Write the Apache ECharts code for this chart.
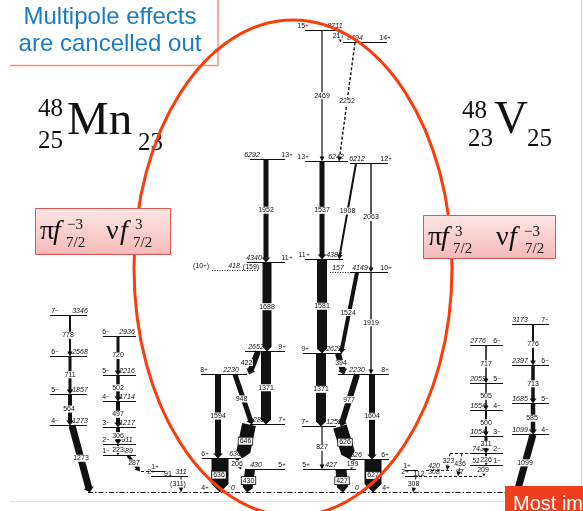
<!DOCTYPE html>
<html>
<head>
<meta charset="utf-8">
<title>48Mn / 48V mirror level schemes</title>
<script src="https://cdn.jsdelivr.net/npm/echarts@6.0.0/dist/echarts.min.js"></script>
<style>
html,body{margin:0;padding:0;background:#fff;overflow:hidden}
#chart{width:583px;height:511px}
</style>
</head>
<body>
<div id="chart"></div>
<script>
// ================= DATA (energies in keV) =================
// ---- 48Mn positive-parity yrast levels ----
const mnYrastSpin = ['4+','5+','6+','7+','8+','9+','11+','13+','(10+)'];
const mnYrastE    = [0, 430, 636, 1282, 2230, 2652, 4340, 6292, 4181];
const mnYrastText = ['0','430','636','1282','2230','2652','4340','6292','418'];
// ---- 48Mn yrast gamma rays ----
const mnYrastGamma     = ['1952','1688','1371','422','1594','948','646','636','206','430','(159)'];
const mnYrastGammaFrom = [6292, 4340, 2652, 2652, 2230, 2230, 1282, 636, 636, 430, 4340];
const mnYrastGammaTo   = [4340, 2652, 1282, 2230, 636, 1282, 636, 0, 430, 0, 4181];
const mnYrastGammaInt  = [5, 9, 10, 6, 6, 5, 14, 17, 3, 10, 0];

// ---- 48V positive-parity yrast levels ----
const vYrastSpin = ['4+','5+','6+','7+','8+','9+','10+','11+','12+','13+','14+','15+'];
const vYrastE    = [0, 427, 626, 1252, 2230, 2622, 4149, 4388, 6212, 6242, 8494, 8711];
const vYrastText = ['0','427','626','1252','2230','2622','4149','4388','6212','6242','8494','8711'];
// ---- 48V yrast gamma rays ----
const vYrastGamma     = ['2469','217','2252','1537','1908','2063','1581','1524','1919','1371','394','977','1604','827','626','199','427','627'];
const vYrastGammaFrom = [8711, 8711, 8494, 6242, 6212, 6212, 4388, 4149, 4149, 2622, 2622, 2230, 2230, 1252, 1252, 626, 427, 626];
const vYrastGammaTo   = [6242, 8494, 6242, 4388, 4388, 4149, 2622, 2622, 2230, 1252, 2230, 1252, 626, 427, 626, 427, 0, 0];
const vYrastGammaInt  = [1.2, 1, 1.4, 5, 2, 1.4, 10, 4, 1.4, 10, 6, 6, 6, 1.2, 14, 2, 11, 17];
// side stubs of 48V levels
const vStubE    = [4149, 743, 420, 308];
const vStubText = ['157', '', '420', '308'];

// ---- 48Mn negative-parity bands ----
const mnBandASpin = ['7-','6-','5-','4-'];
const mnBandAE    = [3346, 2568, 1857, 1273];
const mnBandBSpin = ['6-','5-','4-','3-','2-','1-'];
const mnBandBE    = [2936, 2216, 1714, 1217, 911, 689];
const mnLowSpin   = ['1+','2+'];
const mnLowE      = [402, 311];
const mnLowText   = ['', '311'];
const mnStubE     = [402];
const mnBandAGamma = ['778','711','564','1273'];
const mnBandAFrom  = [3346, 2568, 1857, 1273];
const mnBandATo    = [2568, 1857, 1273, 0];
const mnBandAInt   = [2, 3, 4, 7];
const mnBandBGamma = ['720','502','497','306','223','287'];
const mnBandBFrom  = [2936, 2216, 1714, 1217, 911, 689];
const mnBandBTo    = [2216, 1714, 1217, 911, 689, 402];
const mnBandBInt   = [3, 3.5, 4, 4, 2, 3];
const mnLowGamma   = ['91','(311)'];
const mnLowFrom    = [402, 311];
const mnLowTo      = [311, 0];
const mnLowInt     = [0, 1];

// ---- 48V negative-parity bands ----
const vBandCSpin = ['6-','5-','4-','3-','2-','1-'];
const vBandCE    = [2776, 2059, 1554, 1054, 743, 517];
const vBandDSpin = ['7-','6-','5-','4-'];
const vBandDE    = [3173, 2397, 1685, 1099];
const vLowSpin   = ['1+','2+'];
const vLowE      = [420, 308];
const vBandCGamma = ['717','505','500','311','226','209','323','436','97'];
const vBandCFrom  = [2776, 2059, 1554, 1054, 743, 517, 743, 743, 517];
const vBandCTo    = [2059, 1554, 1054, 743, 517, 308, 420, 308, 420];
const vBandCInt   = [1.5, 1.5, 2, 3, 2, 1, 1, 1, 0];
const vBandDGamma = ['776','713','585','1099'];
const vBandDFrom  = [3173, 2397, 1685, 1099];
const vBandDTo    = [2397, 1685, 1099, 0];
const vBandDInt   = [2, 3.5, 4.5, 7];
const vLowGamma   = ['112','308'];
const vLowFrom    = [420, 308];
const vLowTo      = [308, 0];
const vLowInt     = [0, 1];

// ================= LAYOUT (horizontal placement only) =================
// level: [x1, x2, spinLabelX, energyLabelX, lineStyle(0 solid,1 dotted,2 none,3 dashed)]
const mnYrastLayout = [[200,256,205,233,2],[245,285,282,256,0],[202,241,205,235,0],[250,285,282,257,0],
  [201,247,204,231,0],[245,285,282,256,0],[247,285,287,254,0],[250,285,287,252,0],[212,258,201,234,1]];
const vYrastLayout = [[333,390,386,357,2],[303,356,306,331,0],[350,389,385,356,0],[302,336,305,334,0],
  [338,389,385,357,0],[303,342,305,334,0],[350,388,386,360,0],[305,343,304,334,0],[350,388,386,357,0],
  [305,348,303,336,0],[343,387,385,355,0],[305,341,303,335,0]];
const vStubLayout = [[330,350,0,338,1],[450,470,0,0,3],[426,452,0,434,3],[419,484,0,434,3]];
const mnBandALayout = [50,87,55,80,0];
const mnBandBLayout = [103,136,106,127,0];
const mnLowLayout = [[151,165,155,0,0],[151,188,151,181,0]];
const mnStubLayout = [[141,151,0,0,3]];
const vBandCLayout = [470,503,497,478,0];
const vBandDLayout = [512,549,545,520,0];
const vLowLayout = [[405,418,407,0,0],[405,418,405,0,0]];
// gamma: [xFrom, xTo, labelDx, labelDy, boxed, dashed]
const mnYrastGLayout = [[266,266],[267,267],[266,266],[258,249,-7,0],[218,218],[235,252,-2,0],[249,242,0,0,1],
  [220,220,-1,0,1],[237,241,-2,0],[250,247,0,0,1],[251,251,0,-3]];
const vYrastGLayout = [[322,322],[338,341,-1,0,0,1],[355,339,0,0,0,1],[322,322],[356,339],[371,371],[322,322],
  [357,341,-1,0],[371,371],[321,321],[338,344],[357,341],[372,372],[322,322],[340,350,0,0,1],[354,351],
  [341,343,0,0,1],[373,373,0,0,1]];
const mnBandAGLayout = [[70,70,-2,0],[70,70],[70,70,-1,0],[72,90]];
const mnBandBGLayout = [[118,118],[118,118],[118,118],[118,118],[118,118],[128,140]];
const mnLowGLayout = [[168,168,0,-1.5],[181,181,-3,0,0,1]];
const vBandCGLayout = [[486,486],[486,486],[486,486],[486,486],[486,486,0,1],[484,484,-1,0,0,1],
  [450,447,0,0,0,1],[462,458,0,0,0,1],[460,460,0,2]];
const vBandDGLayout = [[533,533],[533,533],[533,533,-1,0],[533,517]];
const vLowGLayout = [[419,419,0,-1.5],[416,413,-1,0,0,1]];

// ================= BUILD =================
const levels = [];
function addLevels(spins, energies, texts, layout) {
  for (let i = 0; i < energies.length; i++) {
    const L = Array.isArray(layout[0]) ? layout[i] : layout;
    levels.push({
      spin: spins ? spins[i] : '', e: energies[i],
      text: texts ? texts[i] : String(energies[i]),
      x1: L[0], x2: L[1], sx: L[2], tx: L[3], ls: L[4]
    });
  }
}
// ground-state baseline shared by both nuclei
levels.push({spin:'', e:0, text:'', x1:88, x2:512, sx:0, tx:0, ls:4});
addLevels(mnYrastSpin, mnYrastE, mnYrastText, mnYrastLayout);
addLevels(vYrastSpin, vYrastE, vYrastText, vYrastLayout);
addLevels(null, vStubE, vStubText, vStubLayout);
addLevels(mnBandASpin, mnBandAE, null, mnBandALayout);
addLevels(mnBandBSpin, mnBandBE, null, mnBandBLayout);
addLevels(mnLowSpin, mnLowE, mnLowText, mnLowLayout);
addLevels(null, mnStubE, [''], mnStubLayout);
addLevels(vBandCSpin, vBandCE, null, vBandCLayout);
addLevels(vBandDSpin, vBandDE, null, vBandDLayout);
addLevels(vLowSpin, vLowE, ['', ''], vLowLayout);

const gammas = [];
function addGammas(labels, from, to, inten, layout) {
  for (let i = 0; i < labels.length; i++) {
    const L = layout[i];
    gammas.push({label: labels[i], e1: from[i], e2: to[i], w: inten[i],
      x1: L[0], x2: L[1], dx: L[2] || 0, dy: L[3] || 0, box: L[4] || 0, dash: L[5] || 0});
  }
}
addGammas(mnYrastGamma, mnYrastGammaFrom, mnYrastGammaTo, mnYrastGammaInt, mnYrastGLayout);
addGammas(vYrastGamma, vYrastGammaFrom, vYrastGammaTo, vYrastGammaInt, vYrastGLayout);
addGammas(mnBandAGamma, mnBandAFrom, mnBandATo, mnBandAInt, mnBandAGLayout);
addGammas(mnBandBGamma, mnBandBFrom, mnBandBTo, mnBandBInt, mnBandBGLayout);
addGammas(mnLowGamma, mnLowFrom, mnLowTo, mnLowInt, mnLowGLayout);
addGammas(vBandCGamma, vBandCFrom, vBandCTo, vBandCInt, vBandCGLayout);
addGammas(vBandDGamma, vBandDFrom, vBandDTo, vBandDInt, vBandDGLayout);
addGammas(vLowGamma, vLowFrom, vLowTo, vLowInt, vLowGLayout);

const FAM = '"Liberation Sans", Arial, sans-serif';
const SMALL = '7px ' + FAM;
const SMALL_I = 'italic 7px ' + FAM;
const SIGN = '6px ' + FAM;

// spin label: number + raised parity sign
function spinTexts(spin, cx, y) {
  const m = spin.match(/^(\(?\d+)([+-])(\)?)$/);
  if (!m) return [];
  const num = m[1], sign = m[2] === '+' ? '+' : '\u2212', close = m[3];
  const numW = num.replace(/\(/g, '').length * 3.9 + (num.indexOf('(') >= 0 ? 2.3 : 0);
  const totalW = numW + 3.5 + (close ? 2.3 : 0);
  const x0 = cx - totalW / 2;
  const out = [
    {type: 'text', x: x0, y: y, style: {text: num, align: 'left', verticalAlign: 'bottom', font: SMALL, fill: '#111'}},
    {type: 'text', x: x0 + numW, y: y - 2, style: {text: sign, align: 'left', verticalAlign: 'bottom', font: SIGN, fill: '#111'}}
  ];
  if (close) out.push({type: 'text', x: x0 + numW + 3.5, y: y, style: {text: close, align: 'left', verticalAlign: 'bottom', font: SMALL, fill: '#111'}});
  return out;
}

function renderLevel(params, api) {
  const L = levels[api.value(0)];
  const p1 = api.coord([L.x1, L.e]), p2 = api.coord([L.x2, L.e]);
  const y = Math.round(p1[1]) + 0.5;
  let ch = [];
  if (L.ls !== 2) {
    const dash = L.ls === 1 ? [1, 1.5] : L.ls === 3 ? [3, 2] : L.ls === 4 ? [5, 2, 1.5, 2] : null;
    ch.push({type: 'line', shape: {x1: p1[0], y1: y, x2: p2[0], y2: y},
      style: {stroke: '#111', lineWidth: 1, lineDash: dash}});
  }
  if (L.spin) ch = ch.concat(spinTexts(L.spin, api.coord([L.sx, 0])[0], y - 0.5));
  if (L.text) ch.push({type: 'text', x: api.coord([L.tx, 0])[0], y: y - 0.5,
    style: {text: L.text, align: 'center', verticalAlign: 'bottom', font: SMALL_I, fill: '#111'}});
  return {type: 'group', children: ch};
}

function renderGamma(params, api) {
  const g = gammas[api.value(0)];
  if (!(g.w > 0)) return {type: 'group', children: []};
  const a = api.coord([g.x1, g.e1]), b = api.coord([g.x2, g.e2]);
  a[1] = Math.round(a[1]) + 0.5; b[1] = Math.round(b[1]) + 0.5;
  const dx = b[0] - a[0], dy = b[1] - a[1];
  const len = Math.hypot(dx, dy);
  const ux = dx / len, uy = dy / len, nx = -uy, ny = ux;
  const w = g.w;
  const hl = w < 8 ? Math.min(5, len * 0.4) : Math.min(w * 0.5, len * 0.35);
  const hw = w < 8 ? w + 3.5 : w;
  const bx = b[0] - ux * hl, by = b[1] - uy * hl;
  const ch = [];
  const head = [[bx + nx * hw / 2, by + ny * hw / 2], [b[0], b[1]], [bx - nx * hw / 2, by - ny * hw / 2]];
  if (g.dash) {
    ch.push({type: 'line', shape: {x1: a[0], y1: a[1], x2: bx, y2: by},
      style: {stroke: '#111', lineWidth: w, lineDash: [3, 2]}});
    ch.push({type: 'polygon', shape: {points: head}, style: {fill: '#111'}});
  } else {
    ch.push({type: 'polygon', shape: {points: [
      [a[0] + nx * w / 2, a[1] + ny * w / 2], [bx + nx * w / 2, by + ny * w / 2], head[0], head[1], head[2],
      [bx - nx * w / 2, by - ny * w / 2], [a[0] - nx * w / 2, a[1] - ny * w / 2]]},
      style: {fill: '#111'}});
  }
  return {type: 'group', children: ch};
}

function renderGammaLabel(params, api) {
  const g = gammas[api.value(0)];
  const a = api.coord([g.x1, g.e1]), b = api.coord([g.x2, g.e2]);
  let lx, ly;
  if (g.w > 0) { lx = (a[0] + b[0]) / 2 + g.dx; ly = (a[1] + b[1]) / 2 + g.dy; }
  else { lx = a[0] + g.dx; ly = b[1] + g.dy; }
  return {type: 'text', x: lx, y: ly, style: {
    text: g.label, align: 'center', verticalAlign: 'middle', font: SMALL, fill: '#111',
    backgroundColor: g.w > 0 ? '#fff' : null, padding: g.box ? [0, 1] : [0, 0.5],
    borderColor: g.box ? '#111' : null, borderWidth: g.box ? 0.8 : 0}};
}

// ================= DECORATION =================
function T(text, x, base, size, opts) {
  opts = opts || {};
  return {type: 'text', x: x, y: base - 0.34 * size, z: opts.z || 60,
    style: {text: text, font: (opts.italic ? 'italic ' : '') + size + 'px ' + (opts.family || '"Liberation Serif", "Times New Roman", serif'),
      fill: opts.fill || '#111', align: opts.align || 'left', verticalAlign: 'middle'}};
}
const pinkFill = new echarts.graphic.LinearGradient(0, 0, 0, 1, [
  {offset: 0, color: '#fde6e6'}, {offset: 1, color: '#f7b9b9'}]);
const BZ = {z: 121};
const BZI = {z: 121, italic: true};
const graphics = [
  {type: 'line', z: 50, shape: {x1: 218, y1: 0, x2: 218, y2: 65.5}, style: {stroke: '#f0977c', lineWidth: 1.5}},
  {type: 'line', z: 50, shape: {x1: 10, y1: 65.5, x2: 218, y2: 65.5}, style: {stroke: '#f0977c', lineWidth: 1.5}},
  T('Multipole effects', 110, 26, 24, {align: 'center', fill: '#1b7bc3', family: FAM}),
  T('are cancelled out', 110, 53, 24, {align: 'center', fill: '#1b7bc3', family: FAM}),
  // 48Mn symbol
  T('48', 38, 118, 25), T('25', 38, 150, 25), T('Mn', 67, 138, 47), T('23', 138, 152, 25),
  // 48V symbol
  T('48', 462, 120, 25), T('23', 468, 148, 25), T('V', 494, 137, 47), T('25', 527, 148, 25),
  // configuration boxes (above the ellipse)
  {type: 'rect', z: 120, shape: {x: 35.5, y: 208.5, width: 135, height: 46}, style: {fill: pinkFill, stroke: '#e45656', lineWidth: 1}},
  {type: 'rect', z: 120, shape: {x: 423.5, y: 215.5, width: 132, height: 43}, style: {fill: pinkFill, stroke: '#e45656', lineWidth: 1}},
  T('\u03C0', 40, 241, 28, BZ), T('f', 53, 241, 28, BZI), T('\u22123', 67, 230, 15, BZ), T('7/2', 66, 248, 15, BZ),
  T('\u03BD', 106, 241, 28, BZ), T('f', 120, 241, 28, BZI), T('3', 135, 230, 15, BZ), T('7/2', 133, 248, 15, BZ),
  T('\u03C0', 428, 247, 28, BZ), T('f', 441, 247, 28, BZI), T('3', 455, 237, 15, BZ), T('7/2', 453, 254, 15, BZ),
  T('\u03BD', 496, 247, 28, BZ), T('f', 509, 247, 28, BZI), T('\u22123', 524, 237, 15, BZ), T('7/2', 525, 254, 15, BZ),
  // frame lines
  {type: 'line', z: 50, shape: {x1: 581.5, y1: 0, x2: 581.5, y2: 486}, style: {stroke: '#f3c4c4', lineWidth: 1}},
  {type: 'line', z: 50, shape: {x1: 10, y1: 501.5, x2: 505, y2: 501.5}, style: {stroke: '#f1e0e0', lineWidth: 1}},
  // red ellipse
  {type: 'ellipse', z: 100, shape: {cx: 293, cy: 268, rx: 159, ry: 248}, style: {fill: null, stroke: '#fb3c0b', lineWidth: 3}},
  // bottom-right banner
  {type: 'rect', z: 130, shape: {x: 505, y: 486, width: 78, height: 25}, style: {fill: '#f23d1e'}},
  {type: 'text', z: 131, x: 513, y: 494, style: {text: 'Most im', font: '20px ' + FAM, fill: '#fff', align: 'left', verticalAlign: 'top'}}
];

const chart = echarts.init(document.getElementById('chart'), null, {renderer: 'canvas'});
chart.setOption({
  animation: false,
  backgroundColor: '#fff',
  grid: {left: 0, right: 0, top: 0, bottom: 0},
  xAxis: {type: 'value', min: 0, max: 583, show: false},
  yAxis: {type: 'value', min: -358.5, max: 9283, show: false},
  series: [
    {type: 'custom', name: 'levels', renderItem: renderLevel, clip: false, silent: true, z: 2,
      data: levels.map((l, i) => [i, l.x1, l.e]), encode: {x: 1, y: 2}},
    {type: 'custom', name: 'gammas', renderItem: renderGamma, clip: false, silent: true, z: 3,
      data: gammas.map((g, i) => [i, g.x1, g.e1]), encode: {x: 1, y: 2}},
    {type: 'custom', name: 'gammaLabels', renderItem: renderGammaLabel, clip: false, silent: true, z: 4,
      data: gammas.map((g, i) => [i, g.x1, g.e1]), encode: {x: 1, y: 2}}
  ],
  graphic: graphics
});
</script>
</body>
</html>
